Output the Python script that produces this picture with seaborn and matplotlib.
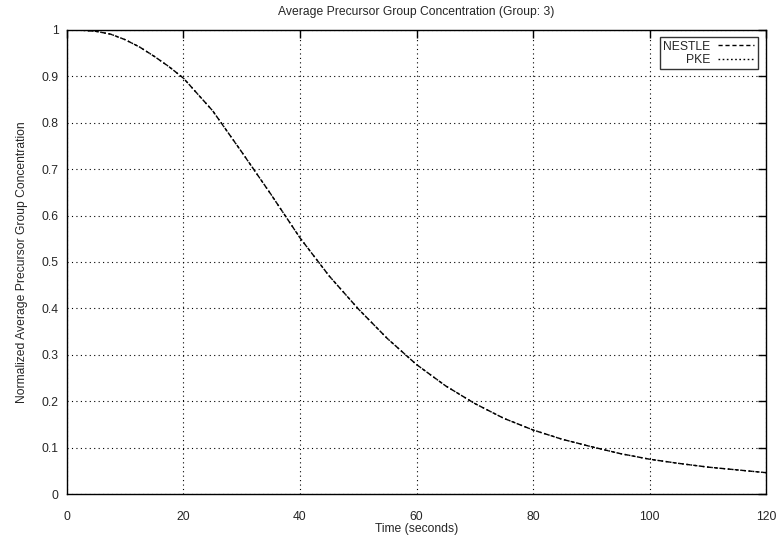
import matplotlib
matplotlib.use("Agg")
import matplotlib.pyplot as plt
import seaborn as sns
import pandas as pd

# values
time_s = [0, 2.5, 5, 7.5, 10, 12.5, 15, 17.5, 20, 25, 30, 35, 40, 45, 50, 55, 60,
          65, 70, 75, 80, 85, 90, 95, 100, 105, 110, 115, 120]
nestle = [1.0, 0.9995, 0.997, 0.991, 0.979, 0.963, 0.943, 0.921, 0.896, 0.826,
          0.737, 0.646, 0.552, 0.470, 0.399, 0.335, 0.279, 0.233, 0.195, 0.163,
          0.138, 0.118, 0.102, 0.087, 0.075, 0.066, 0.058, 0.052, 0.046]
pke = [1.0, 0.9995, 0.997, 0.991, 0.979, 0.963, 0.943, 0.921, 0.896, 0.826,
       0.737, 0.646, 0.552, 0.470, 0.399, 0.335, 0.279, 0.233, 0.195, 0.163,
       0.138, 0.118, 0.102, 0.087, 0.075, 0.066, 0.058, 0.052, 0.046]
x_ticks = [0, 20, 40, 60, 80, 100, 120]
y_ticks = [0, 0.1, 0.2, 0.3, 0.4, 0.5, 0.6, 0.7, 0.8, 0.9, 1]
y_tick_labels = ["0", "0.1", "0.2", "0.3", "0.4", "0.5", "0.6", "0.7", "0.8", "0.9", "1"]

df = pd.DataFrame({
    "time": time_s * 2,
    "value": nestle + pke,
    "series": ["NESTLE"] * len(time_s) + ["PKE"] * len(time_s),
})

sns.set_style("white")
plt.rcParams["font.family"] = ["Liberation Sans", "DejaVu Sans"]
fs = 8.75

fig = plt.figure(figsize=(7.78, 5.44), dpi=100)
ax = fig.add_axes([0.0861, 0.0919, 0.8985, 0.853])

styles = {"NESTLE": (0, (3, 2)), "PKE": (0, (1.2, 1.8))}
for name, grp in df.groupby("series"):
    sns.lineplot(data=grp, x="time", y="value", ax=ax, color="black",
                 linewidth=1.0, linestyle=styles[name], label=name)

ax.set_xlim(0, 120)
ax.set_ylim(0, 1)
ax.set_xticks(x_ticks)
ax.set_xticklabels([str(t) for t in x_ticks])
ax.set_yticks(y_ticks)
ax.set_yticklabels(y_tick_labels)
ax.grid(True, color="black", linestyle=(0, (1, 3)), linewidth=0.8)
ax.tick_params(direction="in", length=6, width=1, color="black",
               top=True, right=True, labelsize=fs)
ax.tick_params(axis="x", pad=12)
ax.tick_params(axis="y", pad=6)
for s in ax.spines.values():
    s.set_color("black")
    s.set_linewidth(1.0)

ax.set_xlabel("Time (seconds)", fontsize=fs, labelpad=0.5)
ax.set_ylabel("Normalized Average Precursor Group Concentration", fontsize=fs, labelpad=10)
ax.set_title("Average Precursor Group Concentration (Group: 3)", fontsize=fs, pad=10.5)

leg = ax.legend(loc="upper right", bbox_to_anchor=(0.9886, 0.985), borderaxespad=0,
                markerfirst=False, fontsize=fs, frameon=True, fancybox=False,
                handlelength=3, borderpad=0.3, labelspacing=0.1, handletextpad=0.6)
leg.get_frame().set_edgecolor("black")
leg.get_frame().set_linewidth(1.0)
for t in leg.get_texts():
    t.set_ha("right")
leg._legend_box.align = "right"

fig.savefig("out.png", dpi=100)
